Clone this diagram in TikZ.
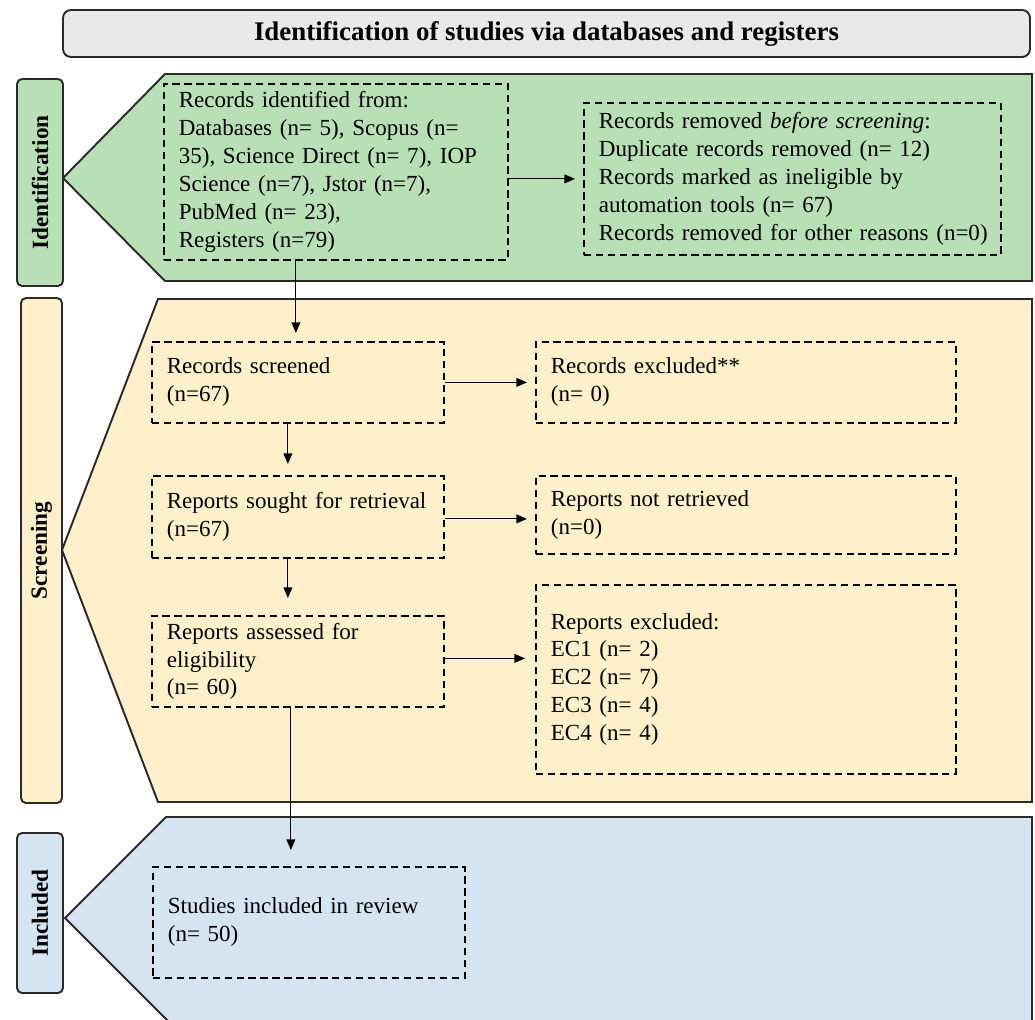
\documentclass[tikz,border=0pt]{standalone}
\usepackage{fontspec}
\setmainfont{Liberation Serif}
\usetikzlibrary{arrows.meta,calc}
\newlength\pxu
\setlength\pxu{0.02cm}
\definecolor{bandgreen}{HTML}{B9DFB7}
\definecolor{bandyellow}{HTML}{FFF0CB}
\definecolor{bandblue}{HTML}{D5E3F3}
\definecolor{titlegray}{HTML}{E9E9E9}
\definecolor{edge}{HTML}{2A2A2A}
\tikzset{
  band/.style={draw=edge, line width=1.1pt, line join=miter},
  sidelabel/.style={draw=edge, line width=1.1pt, rounded corners=5\pxu},
  labeltext/.style={rotate=90, font=\fontsize{13.2}{15.9}\selectfont\bfseries},
  dbox/.style={draw=black, line width=1pt, dash pattern=on 4.2pt off 2.6pt,
    anchor=north west, align=left, inner xsep=15\pxu, inner ysep=0pt,
    font=\fontsize{13.1}{15.9}\selectfont},
  arr/.style={draw=black, line width=0.65pt, -{Triangle[length=6pt,width=5pt]}}
}
\begin{document}
\begin{tikzpicture}[x=0.02cm,y=-0.02cm]
\useasboundingbox (0,0) rectangle (1035,1019);
\clip (0,0) rectangle (1035,1019);
% title
\node[draw=edge, line width=1.1pt, fill=titlegray, rounded corners=8\pxu,
  minimum width=967\pxu, minimum height=47\pxu, inner sep=0pt,
  font=\fontsize{15.3}{18}\selectfont\bfseries] (title) at (546.5,33.5)
  {Identification of studies via databases and registers};
% bands
\filldraw[band, fill=bandgreen] (63,178) -- (165,74) -- (1032,74) -- (1032,281) -- (165,281) -- cycle;
\filldraw[band, fill=bandyellow] (62,550) -- (158,299) -- (1032,299) -- (1032,802) -- (158,802) -- cycle;
\filldraw[band, fill=bandblue] (65,918) -- (166,817) -- (1032,817) -- (1032,1025) -- (172,1025) -- cycle;
% side labels
\filldraw[sidelabel, fill=bandgreen] (17,79) rectangle (63,286);
\filldraw[sidelabel, fill=bandyellow] (21,298) rectangle (62,803);
\filldraw[sidelabel, fill=bandblue] (17,833) rectangle (63,993);
\node[labeltext] (lid) at (40,182.5) {Identification};
\node[labeltext] (lsc) at (41.5,550.5) {Screening};
\node[labeltext] (lin) at (40,913) {Included};
% boxes
\node[dbox, text width=314\pxu, minimum height=176\pxu] (idbox) at (163,83)
  {Records identified from:\\
   Databases (n= 5), Scopus (n=\\
   \mbox{35), Science Direct (n= 7), IOP}\\
   Science (n=7), Jstor (n=7),\\
   PubMed (n= 23),\\
   Registers (n=79)};
\node[dbox, text width=387\pxu, minimum height=152\pxu] (rm) at (583,102)
  {Records removed \textit{before screening}:\\
   Duplicate records removed (n= 12)\\
   Records marked as ineligible by\\
   automation tools (n= 67)\\
   \mbox{Records removed for other reasons (n=0)}};
\node[dbox, text width=262\pxu, minimum height=81\pxu] (sc) at (151,341)
  {Records screened\\(n=67)};
\node[dbox, text width=390\pxu, minimum height=81\pxu] (ex) at (535,341)
  {Records excluded**\\(n= 0)};
\node[dbox, text width=262\pxu, minimum height=82\pxu] (so) at (151,475)
  {\mbox{Reports sought for retrieval}\\(n=67)};
\node[dbox, text width=390\pxu, minimum height=78\pxu] (nr) at (535,475)
  {Reports not retrieved\\(n=0)};
\node[dbox, text width=262\pxu, minimum height=91\pxu] (as) at (151,615)
  {Reports assessed for\\eligibility\\(n= 60)};
\node[dbox, text width=390\pxu, minimum height=189\pxu] (rx) at (535,584)
  {Reports excluded:\\EC1 (n= 2)\\EC2 (n= 7)\\EC3 (n= 4)\\EC4 (n= 4)};
\node[dbox, text width=282\pxu, minimum height=111\pxu] (inc) at (152,866)
  {Studies included in review\\(n= 50)};
% connectors
\draw[arr] ($(idbox.south -| sc.north)+(-2,0)$) -- ($(sc.north)+(-2,-8)$);
\draw[arr] ($(idbox.east |- rm.west)$) -- ($(rm.west)+(-8,0)$);
\draw[arr] ($(sc.south)+(-10,0)$) -- ($(so.north)+(-10,-11)$);
\draw[arr] ($(so.south)+(-10,0)$) -- ($(as.north)+(-10,-17)$);
\draw[arr] ($(as.south)+(-7,0)$) -- ($(as.south |- inc.north)+(-7,-16)$);
\draw[arr] (sc.east) -- ($(sc.east -| ex.west)+(-8,0)$);
\draw[arr] ($(so.east)+(0,2)$) -- ($(so.east -| nr.west)+(-8,2)$);
\draw[arr] ($(as.east)+(0,-3)$) -- ($(as.east -| rx.west)+(-10,-3)$);
\end{tikzpicture}
\end{document}
